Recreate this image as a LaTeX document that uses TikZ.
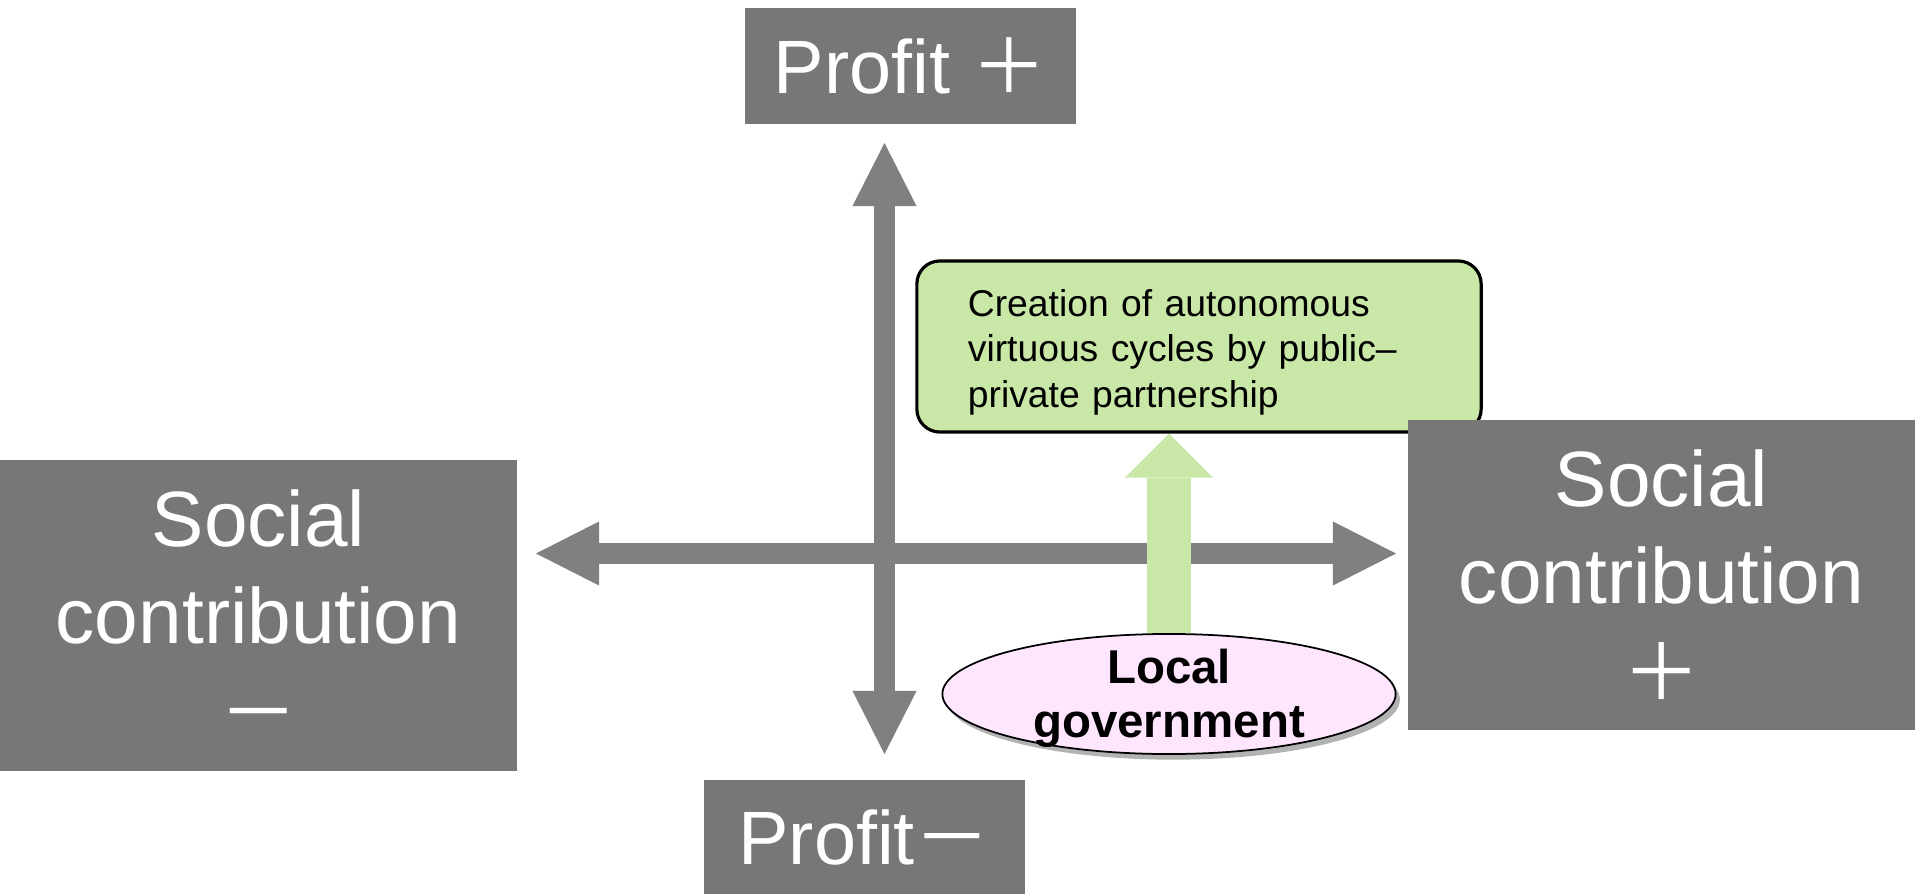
\documentclass[tikz,border=0pt]{standalone}
\usepackage{fontspec}
\setmainfont{Liberation Sans}
\newfontfamily\cjkfont{Noto Sans CJK JP}
\usetikzlibrary{arrows.meta,shapes.geometric,shadows}
\definecolor{boxgray}{HTML}{777777}
\definecolor{axisgray}{HTML}{808080}
\definecolor{cyclegreen}{HTML}{C9E7A7}
\definecolor{govpink}{HTML}{FFE6FF}
\newcommand{\bigplus}{{\cjkfont ＋}}
\newcommand{\bigminus}{{\cjkfont －}}
\begin{document}
\begin{tikzpicture}[x=0.01cm,y=-0.01cm,
  labelbox/.style={fill=boxgray,text=white,inner sep=0pt,align=center},
  bigtext/.style={font=\fontsize{21.5}{26}\selectfont},
  sidetext/.style={font=\fontsize{22.3}{27.6}\selectfont},
  >={Triangle[width=6.4mm,length=6.3mm,line width=0pt]}]
\useasboundingbox(0,0)rectangle(1915,894);
% boxes at the ends of the axes
\node[labelbox,bigtext,minimum width=3.31cm,minimum height=1.16cm](ptop)at(910.5,66){Profit \bigplus};
\node[labelbox,bigtext,minimum width=3.21cm,minimum height=1.14cm](pbot)at(864.5,837){Profit\bigminus};
\node[labelbox,sidetext,minimum width=5.17cm,minimum height=3.11cm](sleft)at(258.5,615.5){Social\\contribution\\\bigminus};
% axes
\coordinate(ytop)at(884.5,143);
\coordinate(ybot)at(884.5,754);
\coordinate(xleft)at(536,553.5);
\coordinate(xright)at(1396,553.5);
\draw[axisgray,line width=2.1mm,<->](ybot)--(ytop);
\draw[axisgray,line width=2.1mm,<->](xleft)--(xright);
% goal box
\node[draw=black,line width=0.9pt,fill=cyclegreen,rounded corners=0.23cm,minimum height=1.71cm,text width=4.62cm,text depth=0.86cm,inner xsep=0.51cm,align=left,font=\fontsize{10.6}{12.8}\selectfont](gbox)at(1199,346.5){Creation of autonomous\\virtuous cycles by public–\\private partnership};
\node[labelbox,sidetext,minimum width=5.07cm,minimum height=3.10cm](sright)at(1661.5,575){Social\\contribution\\\bigplus};
\node[ellipse,draw=black,line width=0.5pt,fill=govpink,minimum width=4.53cm,minimum height=1.2cm,inner sep=0pt,
  drop shadow={shadow xshift=1.2pt,shadow yshift=-1.6pt,fill=black,opacity=0.3},
  label={[font=\fontsize{13.5}{15.3}\selectfont\bfseries,align=center,yshift=-1.2pt]center:Local\\government}](lgov)at(1169,694){};
\draw[cyclegreen,line width=4.4mm,-{Triangle[width=8.8mm,length=4.4mm,line width=0pt]}](lgov.north)--(lgov.north|-gbox.south);
\end{tikzpicture}
\end{document}
